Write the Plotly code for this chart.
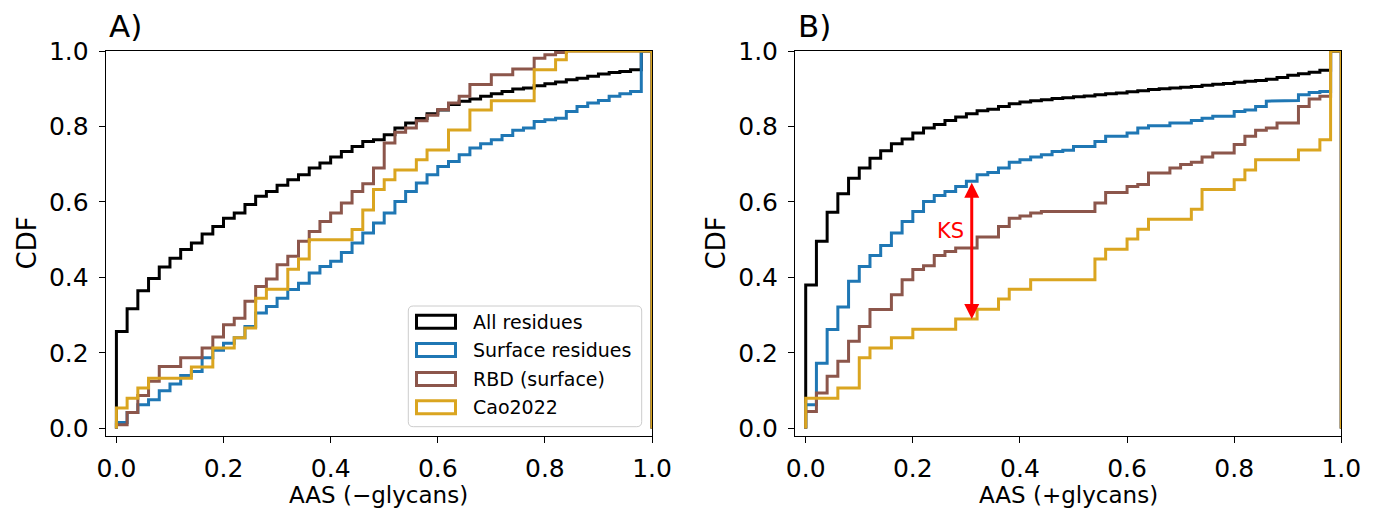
import numpy as np
import plotly.graph_objects as go

# ---------------- data (cumulative fraction per 0.02-wide AAS bin) ----------------
bin_width = 0.02
bin_edges = np.round(np.arange(0, 1 + bin_width / 2, bin_width), 2)  # 51 edges, 50 bins

series_names = ["All residues", "Surface residues", "RBD (surface)", "Cao2022"]
series_colors = ["#000000", "#1f77b4", "#8c564b", "#daa520"]

# Panel A: AAS (-glycans)
A_all = [0.257, 0.317, 0.365, 0.397, 0.428, 0.451, 0.474, 0.491, 0.515, 0.535,
         0.557, 0.571, 0.593, 0.615, 0.628, 0.644, 0.659, 0.672, 0.690, 0.703,
         0.719, 0.734, 0.747, 0.760, 0.765, 0.778, 0.796, 0.809, 0.821, 0.834,
         0.844, 0.858, 0.867, 0.873, 0.880, 0.887, 0.893, 0.899, 0.902, 0.908,
         0.913, 0.918, 0.924, 0.928, 0.933, 0.939, 0.943, 0.946, 0.950, 1.000]
A_surface = [0.016, 0.042, 0.063, 0.076, 0.100, 0.118, 0.140, 0.151, 0.187, 0.207,
             0.226, 0.240, 0.270, 0.306, 0.323, 0.345, 0.368, 0.385, 0.412, 0.429,
             0.443, 0.466, 0.491, 0.518, 0.544, 0.571, 0.601, 0.628, 0.650, 0.672,
             0.694, 0.707, 0.725, 0.743, 0.754, 0.765, 0.776, 0.790, 0.796, 0.813,
             0.818, 0.822, 0.840, 0.853, 0.862, 0.869, 0.880, 0.887, 0.893, 1.000]
A_rbd = [0.010, 0.042, 0.087, 0.125, 0.164, 0.164, 0.187, 0.187, 0.213, 0.242,
         0.275, 0.292, 0.337, 0.376, 0.396, 0.434, 0.456, 0.496, 0.522, 0.548,
         0.571, 0.597, 0.628, 0.648, 0.690, 0.756, 0.785, 0.796, 0.815, 0.830,
         0.845, 0.862, 0.880, 0.911, 0.911, 0.937, 0.937, 0.952, 0.952, 0.981,
         0.990, 0.996, 1.000, 1.000, 1.000, 1.000, 1.000, 1.000, 1.000, 1.000]
A_cao = [0.054, 0.080, 0.107, 0.133, 0.133, 0.133, 0.133, 0.163, 0.163, 0.213,
         0.213, 0.240, 0.266, 0.345, 0.369, 0.369, 0.422, 0.449, 0.500, 0.500,
         0.500, 0.500, 0.527, 0.579, 0.633, 0.659, 0.685, 0.685, 0.712, 0.738,
         0.738, 0.791, 0.791, 0.844, 0.844, 0.868, 0.868, 0.868, 0.868, 0.950,
         0.950, 0.977, 1.000, 1.000, 1.000, 1.000, 1.000, 1.000, 1.000, 1.000]

# Panel B: AAS (+glycans)
B_all = [0.380, 0.496, 0.573, 0.622, 0.663, 0.690, 0.716, 0.736, 0.754, 0.767,
         0.783, 0.796, 0.805, 0.816, 0.825, 0.834, 0.842, 0.846, 0.853, 0.860,
         0.865, 0.868, 0.871, 0.874, 0.876, 0.879, 0.881, 0.884, 0.887, 0.889,
         0.892, 0.895, 0.898, 0.900, 0.902, 0.904, 0.906, 0.909, 0.912, 0.914,
         0.917, 0.920, 0.922, 0.925, 0.930, 0.936, 0.940, 0.944, 0.949, 1.000]
B_surface = [0.063, 0.173, 0.262, 0.322, 0.390, 0.429, 0.458, 0.485, 0.518, 0.548,
             0.575, 0.601, 0.617, 0.628, 0.641, 0.655, 0.672, 0.678, 0.690, 0.705,
             0.712, 0.719, 0.725, 0.734, 0.737, 0.747, 0.747, 0.760, 0.774, 0.774,
             0.783, 0.796, 0.802, 0.802, 0.809, 0.809, 0.816, 0.822, 0.827, 0.827,
             0.840, 0.844, 0.853, 0.867, 0.869, 0.869, 0.884, 0.890, 0.893, 1.000]
B_rbd = [0.045, 0.094, 0.138, 0.178, 0.231, 0.270, 0.315, 0.315, 0.354, 0.394,
         0.421, 0.431, 0.458, 0.469, 0.478, 0.478, 0.507, 0.507, 0.535, 0.557,
         0.563, 0.571, 0.575, 0.575, 0.575, 0.575, 0.575, 0.597, 0.625, 0.625,
         0.641, 0.646, 0.677, 0.677, 0.690, 0.699, 0.705, 0.719, 0.730, 0.730,
         0.752, 0.774, 0.790, 0.796, 0.809, 0.809, 0.853, 0.873, 0.880, 1.000]
B_cao = [0.080, 0.080, 0.080, 0.107, 0.107, 0.187, 0.213, 0.213, 0.240, 0.240,
         0.263, 0.263, 0.263, 0.263, 0.290, 0.290, 0.316, 0.316, 0.343, 0.369,
         0.369, 0.394, 0.394, 0.394, 0.394, 0.394, 0.394, 0.449, 0.475, 0.475,
         0.502, 0.528, 0.554, 0.554, 0.554, 0.554, 0.581, 0.633, 0.633, 0.633,
         0.659, 0.685, 0.712, 0.712, 0.712, 0.712, 0.738, 0.738, 0.765, 1.000]

panel_A = [A_all, A_surface, A_rbd, A_cao]
panel_B = [B_all, B_surface, B_rbd, B_cao]

ks_bin = 15  # bin where the KS distance (Surface vs Cao2022, +glycans) is marked

x_ticks = [0.0, 0.2, 0.4, 0.6, 0.8, 1.0]
y_ticks = [0.0, 0.2, 0.4, 0.6, 0.8, 1.0]

# ---------------- figure geometry (window pixels) ----------------
# the page body has an 8px margin, so the figure is made 8px smaller and every
# window-pixel position is shifted by that offset
OFF = 8
W, H = 1379 - OFF, 509 - OFF
A_left, A_right = 105.7, 652.0
B_left, B_right = 795.0, 1341.3
top_px, bot_px = 51.0, 436.0


def px_x(p):
    return (p - OFF) / W


def px_y(p):
    return 1 - (p - OFF) / H


def step_path(cdf):
    xs = [bin_edges[0]]
    ys = [0.0]
    for i, c in enumerate(cdf):
        xs += [bin_edges[i], bin_edges[i + 1]]
        ys += [c, c]
    xs.append(bin_edges[-1])
    ys.append(0.0)
    return xs, ys


fig = go.Figure()
for axis_suffix, panel in (("", panel_A), ("2", panel_B)):
    for name, color, cdf in zip(series_names, series_colors, panel):
        xs, ys = step_path(cdf)
        fig.add_trace(go.Scatter(
            x=xs, y=ys, mode="lines", name=name,
            line=dict(color=color, width=3),
            xaxis="x" + axis_suffix, yaxis="y" + axis_suffix,
            showlegend=False, hoverinfo="skip"))

FONT = "DejaVu Sans"
axis_common = dict(
    showgrid=False, zeroline=False, showline=True, mirror=True,
    linecolor="black", linewidth=1, ticks="outside", ticklen=6, tickwidth=1,
    tickcolor="black", tickfont=dict(family=FONT, size=25, color="black"),
    tickformat=".1f", range=[-0.02, 1.0], fixedrange=True, automargin=False,
)

fig.update_layout(
    width=W, height=H,
    margin=dict(l=0, r=0, t=0, b=0, pad=0, autoexpand=False),
    paper_bgcolor="white", plot_bgcolor="white",
    xaxis=dict(domain=[px_x(A_left), px_x(A_right)], anchor="y", tickvals=x_ticks, **axis_common),
    yaxis=dict(domain=[px_y(bot_px), px_y(top_px)], anchor="x", tickvals=y_ticks, **axis_common),
    xaxis2=dict(domain=[px_x(B_left), px_x(B_right)], anchor="y2", tickvals=x_ticks, **axis_common),
    yaxis2=dict(domain=[px_y(bot_px), px_y(top_px)], anchor="x2", tickvals=y_ticks, **axis_common),
    showlegend=False,
)
fig.update_xaxes(ticklabelstandoff=4)
fig.update_yaxes(ticklabelstandoff=5)

annotations = []
# panel titles
for txt, left in (("A)", A_left), ("B)", B_left)):
    annotations.append(dict(text=txt, xref="paper", yref="paper", x=px_x(left + 1), y=px_y(46),
                            xanchor="left", yanchor="bottom", showarrow=False,
                            font=dict(family=FONT, size=31, color="black")))
# axis titles
for txt, left, right in (("AAS (\u2212glycans)", A_left, A_right), ("AAS (+glycans)", B_left, B_right)):
    annotations.append(dict(text=txt, xref="paper", yref="paper", x=px_x((left + right) / 2), y=px_y(509.5),
                            xanchor="center", yanchor="bottom", showarrow=False, borderpad=0,
                            font=dict(family=FONT, size=23, color="black")))
for cx in (26, 715):
    annotations.append(dict(text="CDF", xref="paper", yref="paper", x=px_x(cx), y=px_y((top_px + bot_px) / 2),
                            xanchor="center", yanchor="middle", textangle=-90, showarrow=False,
                            font=dict(family=FONT, size=26, color="black")))

# KS arrow between Surface residues and Cao2022 in panel B
ks_x = (bin_edges[ks_bin] + bin_edges[ks_bin + 1]) / 2
annotations.append(dict(x=ks_x, y=B_cao[ks_bin], ax=ks_x, ay=B_surface[ks_bin],
                        xref="x2", yref="y2", axref="x2", ayref="y2", text="",
                        showarrow=True, arrowhead=2, startarrowhead=2, arrowside="end+start",
                        arrowsize=1, startarrowsize=1, arrowwidth=3, arrowcolor="red"))
annotations.append(dict(text="KS", x=ks_x - 0.010, y=(B_cao[ks_bin] + B_surface[ks_bin]) / 2 + 0.05,
                        xref="x2", yref="y2", xanchor="right", yanchor="middle", showarrow=False,
                        font=dict(family=FONT, size=21, color="red")))

# legend (inside panel A, lower right)
shapes = []
lg_l, lg_r, lg_t, lg_b, rr = 408.3, 641.7, 306.0, 426.7, 5
path = (f"M {px_x(lg_l + rr)},{px_y(lg_t)} L {px_x(lg_r - rr)},{px_y(lg_t)} "
        f"Q {px_x(lg_r)},{px_y(lg_t)} {px_x(lg_r)},{px_y(lg_t + rr)} "
        f"L {px_x(lg_r)},{px_y(lg_b - rr)} Q {px_x(lg_r)},{px_y(lg_b)} {px_x(lg_r - rr)},{px_y(lg_b)} "
        f"L {px_x(lg_l + rr)},{px_y(lg_b)} Q {px_x(lg_l)},{px_y(lg_b)} {px_x(lg_l)},{px_y(lg_b - rr)} "
        f"L {px_x(lg_l)},{px_y(lg_t + rr)} Q {px_x(lg_l)},{px_y(lg_t)} {px_x(lg_l + rr)},{px_y(lg_t)} Z")
shapes.append(dict(type="path", path=path, xref="paper", yref="paper",
                   line=dict(color="#cccccc", width=1), fillcolor="rgba(255,255,255,0.85)", layer="above"))
row_y = [321.7, 350.0, 379.0, 407.3]
for name, color, ry in zip(series_names, series_colors, row_y):
    shapes.append(dict(type="rect", xref="paper", yref="paper",
                       x0=px_x(416.5), x1=px_x(455.5), y0=px_y(ry - 6.5), y1=px_y(ry + 6.5),
                       line=dict(color=color, width=3), fillcolor="white", layer="above"))
    annotations.append(dict(text=name, xref="paper", yref="paper", x=px_x(470.5), y=px_y(ry),
                            xanchor="left", yanchor="middle", showarrow=False,
                            font=dict(family=FONT, size=19, color="black")))

fig.update_layout(annotations=annotations, shapes=shapes)
fig.write_html("out.html")
